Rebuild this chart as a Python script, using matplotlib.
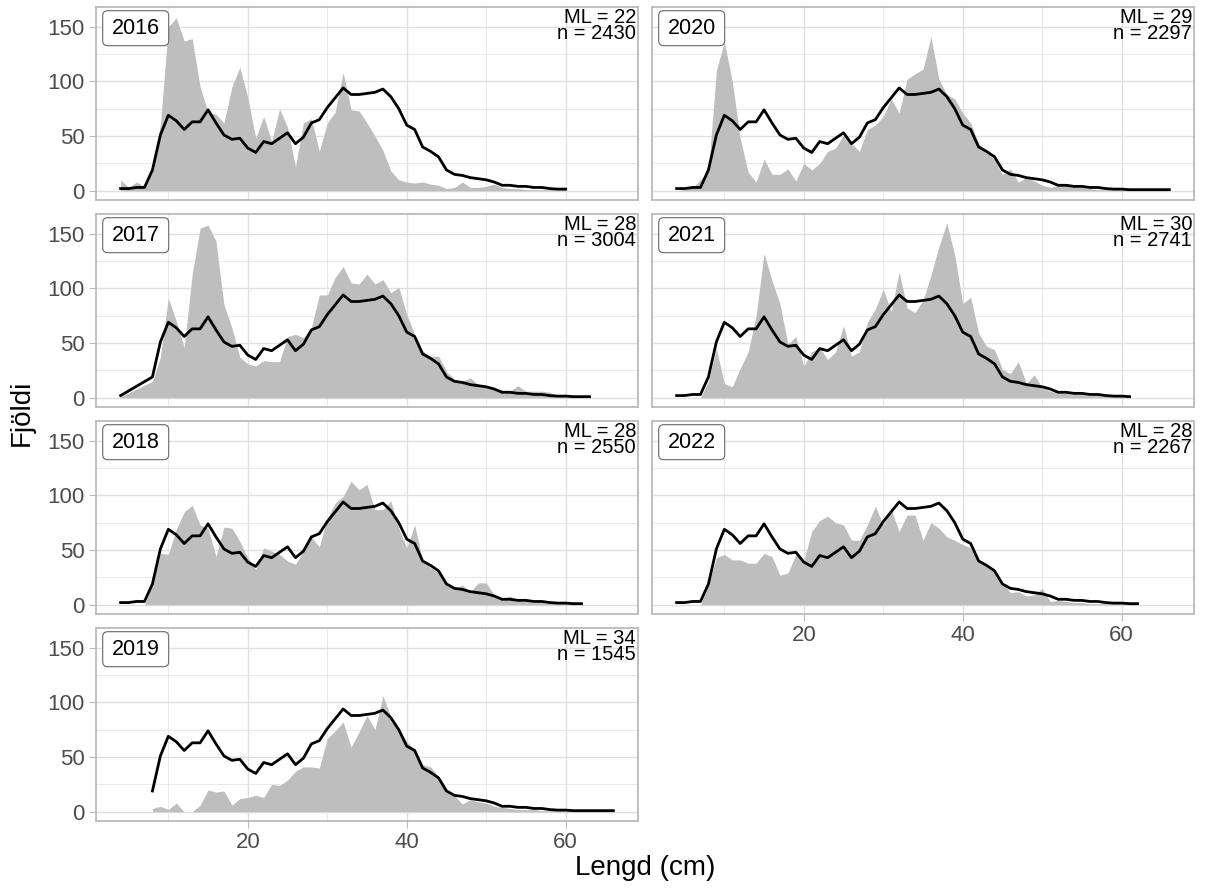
import matplotlib
matplotlib.use("Agg")
import matplotlib.pyplot as plt
from matplotlib.patches import FancyBboxPatch
from matplotlib.ticker import MultipleLocator

plt.rcParams["font.family"] = ["Liberation Sans", "DejaVu Sans"]

# --- data ----------------------------------------------------------------
mean_lengths = list(range(4, 67))
mean_counts = [2, 2, 3, 3, 19, 51, 69, 64, 56, 63,
               63, 74, 62, 51, 47, 48, 39, 35, 45, 43,
               48, 53, 43, 49, 62, 65, 76, 85, 94, 88,
               88, 89, 90, 93, 86, 75, 60, 56, 40, 36,
               31, 19, 15, 14, 12, 11, 10, 8, 5, 5,
               4, 4, 3, 3, 2, 1.5, 1.5, 1, 1, 1,
               1, 1, 1]

len_2016 = list(range(4, 61))
cnt_2016 = [10, 3, 8, 4, 22, 60, 150, 158, 137, 139,
            95, 72, 70, 62, 95, 113, 85, 48, 68, 45,
            75, 58, 22, 62, 66, 36, 62, 72, 108, 74,
            73, 62, 50, 37, 18, 10, 8, 7, 8, 6,
            5, 2, 3, 8, 3, 3, 4, 6, 3, 2,
            2, 1, 1, 1, 1, 1, 1]

len_2017 = [4] + list(range(8, 64))
cnt_2017 = [1,
            15, 37, 91, 70, 46, 113, 155, 158, 143, 85,
            64, 37, 31, 29, 34, 33, 33, 56, 58, 55,
            64, 94, 94, 110, 120, 105, 104, 113, 104, 108,
            96, 101, 76, 58, 43, 38, 38, 24, 17, 15,
            18, 12, 10, 8, 7, 6, 11, 6, 6, 6,
            5, 2, 1, 1, 1, 1]

len_2018 = list(range(4, 63))
cnt_2018 = [0, 0, 0, 0, 18, 47, 46, 69, 85, 91,
            73, 70, 44, 71, 70, 58, 43, 32, 52, 49,
            46, 40, 37, 49, 62, 53, 79, 93, 99, 113,
            105, 110, 87, 87, 95, 70, 52, 73, 40, 34,
            29, 20, 15, 18, 12, 20, 20, 9, 5, 8,
            4, 3, 2, 2, 1, 1, 1, 1, 1]

len_2019 = list(range(8, 67))
cnt_2019 = [3, 5, 2, 8, 0, 0, 6, 20, 18, 19,
            6, 12, 13, 15, 13, 25, 24, 29, 37, 41,
            41, 40, 67, 74, 82, 59, 73, 88, 75, 106,
            87, 76, 64, 57, 43, 41, 32, 20, 15, 7,
            11, 9, 8, 5, 4, 3, 2, 2, 2, 1,
            1, 1, 1, 1, 1, 1, 1, 1, 1]

len_2020 = list(range(4, 67))
cnt_2020 = [0, 1, 3, 10, 18, 110, 136, 100, 48, 17,
            8, 29, 15, 15, 20, 9, 25, 19, 25, 36,
            39, 51, 43, 36, 56, 60, 68, 84, 71, 102,
            107, 111, 141, 102, 88, 84, 71, 62, 43, 36,
            28, 15, 20, 8, 12, 9, 5, 3, 5, 5,
            5, 3, 2, 1, 1, 1, 1, 1, 1, 1,
            1, 1, 1]

len_2021 = list(range(4, 62))
cnt_2021 = [0, 0, 0, 0, 15, 45, 13, 10, 27, 42,
            75, 132, 107, 86, 49, 56, 29, 42, 46, 35,
            42, 66, 38, 42, 69, 81, 99, 79, 115, 82,
            78, 89, 112, 138, 160, 130, 86, 92, 59, 47,
            44, 26, 22, 33, 13, 21, 9, 6, 4, 4,
            3, 3, 2, 2, 1, 1, 1, 1]

len_2022 = list(range(4, 63))
cnt_2022 = [0, 0, 0, 0, 18, 43, 46, 41, 41, 38,
            38, 47, 44, 27, 29, 46, 40, 67, 77, 81,
            75, 73, 59, 59, 73, 90, 73, 87, 67, 82,
            82, 59, 75, 70, 62, 59, 55, 52, 41, 35,
            29, 20, 11, 12, 8, 9, 15, 3, 4, 3,
            2, 2, 1, 1, 1, 1, 1, 1, 1]

years = [2016, 2017, 2018, 2019, 2020, 2021, 2022]
mean_length = [22, 28, 28, 34, 29, 30, 28]
n_fish = [2430, 3004, 2550, 1545, 2297, 2741, 2267]
lengths = [len_2016, len_2017, len_2018, len_2019, len_2020, len_2021, len_2022]
counts = [cnt_2016, cnt_2017, cnt_2018, cnt_2019, cnt_2020, cnt_2021, cnt_2022]

mean_by_length = dict(zip(mean_lengths, mean_counts))

# --- layout (pixels) --------------------------------------------------------
FIG_W, FIG_H = 1205, 892
LEFT, PANEL_W, COL_GAP = 96, 542, 14
TOP, PANEL_H, ROW_GAP = 7, 192.5, 14.5

BORDER = "#BBBBBB"
GRID = "#E0E0E0"

fig = plt.figure(figsize=(FIG_W / 100, FIG_H / 100), dpi=100)


def panel_axes(col, row):
    x0 = LEFT + col * (PANEL_W + COL_GAP)
    y0 = TOP + row * (PANEL_H + ROW_GAP)
    return fig.add_axes([x0 / FIG_W, 1 - (y0 + PANEL_H) / FIG_H,
                         PANEL_W / FIG_W, PANEL_H / FIG_H])


for i, year in enumerate(years):
    col, row = divmod(i, 4)
    ax = panel_axes(col, row)

    x = lengths[i]
    ax.fill_between(x, counts[i], 0, color="#BEBEBE", lw=0, zorder=2)
    ax.plot(x, [mean_by_length[v] for v in x], color="black", lw=2.0,
            zorder=3, solid_joinstyle="round")

    ax.set_xlim(0.9, 69.1)
    ax.set_ylim(-8, 168)
    ax.xaxis.set_major_locator(MultipleLocator(20))
    ax.xaxis.set_minor_locator(MultipleLocator(10))
    ax.yaxis.set_major_locator(MultipleLocator(50))
    ax.yaxis.set_minor_locator(MultipleLocator(25))
    ax.grid(which="major", color=GRID, lw=1.0)
    ax.grid(which="minor", color=GRID, lw=0.5)
    ax.set_axisbelow(True)

    for s in ax.spines.values():
        s.set_color(BORDER)
        s.set_linewidth(1.3)
        s.set_zorder(4)

    ax.tick_params(which="major", color=BORDER, length=5, width=0.8,
                   labelsize=16, labelcolor="#4D4D4D", pad=3)
    ax.tick_params(which="minor", length=0)

    is_bottom = (col == 0 and row == 3) or (col == 1 and row == 2)
    if not is_bottom:
        ax.tick_params(axis="x", which="both", bottom=False, labelbottom=False)
    if col == 1:
        ax.tick_params(axis="y", which="both", left=False, labelleft=False)

    # year label box in the top-left corner
    bx, bw = 6.7 / PANEL_W, 66 / PANEL_W
    bh = 35 / PANEL_H
    by = 1 - 3.7 / PANEL_H - bh
    box = FancyBboxPatch((bx, by), bw, bh,
                         boxstyle="round,pad=0,rounding_size=%f" % (5 / PANEL_W),
                         mutation_aspect=PANEL_W / PANEL_H,
                         transform=ax.transAxes, fc="white", ec="#666666",
                         lw=0.8, zorder=5)
    ax.add_patch(box)
    ax.text(bx + bw / 2, by + bh / 2, str(year), transform=ax.transAxes,
            ha="center", va="center", fontsize=15.5, color="black", zorder=6)

    ax.text(1 - 2 / PANEL_W, 1 - 1 / PANEL_H,
            "ML = %d\nn = %d" % (mean_length[i], n_fish[i]),
            transform=ax.transAxes, ha="right", va="top",
            multialignment="right", fontsize=14.5, linespacing=0.8,
            color="black", zorder=6)

fig.text((LEFT + PANEL_W + COL_GAP / 2) / FIG_W, 1 - 868 / FIG_H, "Lengd (cm)",
         ha="center", va="center", fontsize=20, color="black")
fig.text(22 / FIG_W, 1 - 413 / FIG_H, "Fjöldi", rotation=90,
         ha="center", va="center", fontsize=20, color="black")

fig.savefig("out.png", dpi=100, facecolor="white")
